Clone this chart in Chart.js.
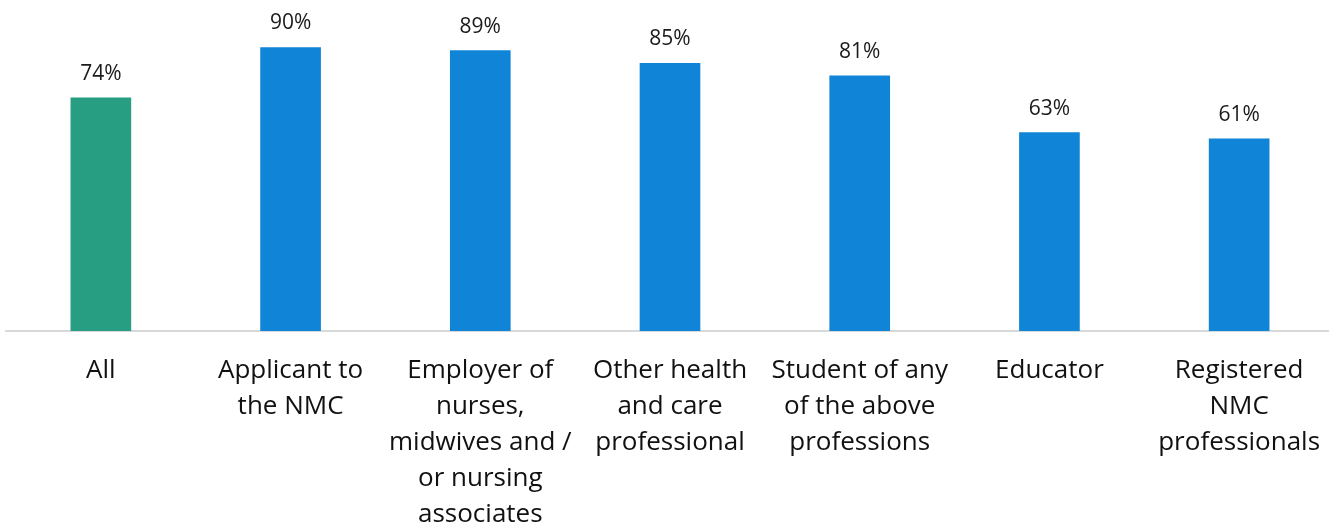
<!DOCTYPE html>
<html>
<head>
<meta charset="utf-8">
<script src="https://cdn.jsdelivr.net/npm/chart.js@4"></script>
<style>
  html, body { margin: 0; padding: 0; background: #fff; overflow: hidden; }
  #wrap { width: 1329px; height: 526px; overflow: hidden; }
</style>
</head>
<body>
<div id="wrap"><canvas id="bars" width="1340" height="526"></canvas></div>
<script>
var categories = [
    ['All'],
    ['Applicant to', 'the NMC'],
    ['Employer of', 'nurses,', 'midwives and /', 'or nursing', 'associates'],
    ['Other health', 'and care', 'professional'],
    ['Student of any', 'of the above', 'professions'],
    ['Educator'],
    ['Registered', 'NMC', 'professionals']
]
var percentValues = [74, 90, 89, 85, 81, 63, 61]
var barColours = ['#279e82', '#1084d6', '#1084d6', '#1084d6', '#1084d6', '#1084d6', '#1084d6']

// puts the "xx%" text above each bar
var valueLabels = {
    id: 'valueLabels',
    afterDatasetsDraw(chart) {
        var ctx = chart.ctx
        var meta = chart.getDatasetMeta(0)
        ctx.save()
        ctx.font = '21px "Open Sans"'
        ctx.fillStyle = '#1a1a1a'
        ctx.textAlign = 'center'
        ctx.textBaseline = 'middle'
        meta.data.forEach(function (bar, i) {
            ctx.fillText(percentValues[i] + '%', bar.x, bar.y - 24)
        })
        ctx.restore()
    }
}

const data = {
    labels: categories,
    datasets: [{
        data: percentValues,
        backgroundColor: barColours,
        barThickness: 60
    }]
}

const config = {
    type: 'bar',
    data: data,
    options: {
        responsive: false,
        animation: false,
        layout: { padding: { top: 16, left: 6, right: 6, bottom: 0 } },
        plugins: { legend: { display: false }, tooltip: { enabled: false } },
        scales: {
            y: { display: false, min: 0, max: 100 },
            x: {
                grid: { display: false, drawTicks: false },
                border: { display: true, color: '#d9d9d9', width: 2 },
                ticks: {
                    autoSkip: false,
                    maxRotation: 0,
                    padding: 22,
                    color: '#111',
                    font: { family: 'Open Sans', size: 26, lineHeight: '36px' }
                },
                afterFit: function (scale) {
                    scale.height = 195
                    scale.paddingRight = 0
                }
            }
        }
    },
    plugins: [valueLabels]
}

const myChart = new Chart(document.getElementById('bars'), config)
</script>
</body>
</html>
